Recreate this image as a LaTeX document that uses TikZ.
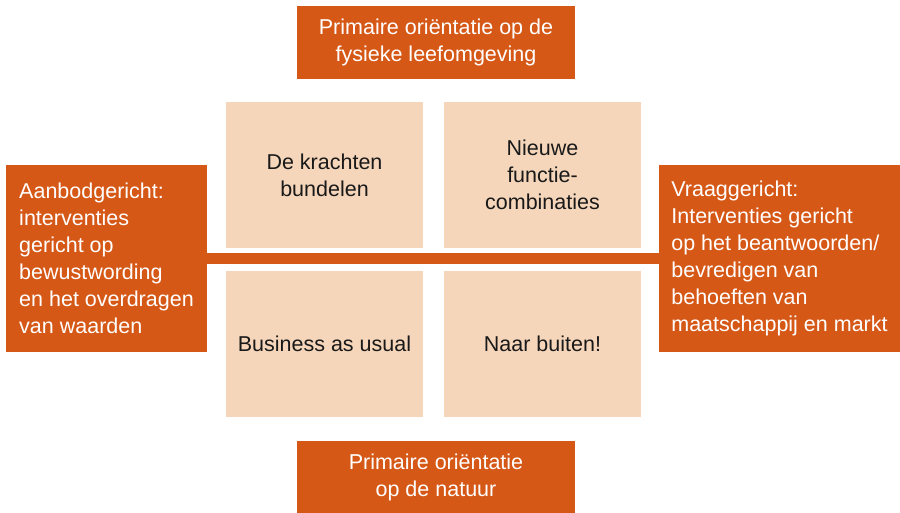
\documentclass[tikz,border=0pt]{standalone}
\usepackage{fontspec}
\setmainfont{Liberation Sans}
\usetikzlibrary{positioning}
\definecolor{oranje}{RGB}{214,88,23}
\definecolor{perzik}{RGB}{245,214,186}

\begin{document}
\begin{tikzpicture}[x=1pt, y=-1pt,
		axis/.style = {rectangle, fill=oranje, text=white, inner sep=0pt, font=\fontsize{21.5}{27}\selectfont},
		quadrant/.style = {rectangle, fill=perzik, text=black!90, inner sep=0pt, align=center, minimum width=197pt, minimum height=146pt, font=\fontsize{21.5}{27}\selectfont},
	]
	\useasboundingbox (0,0) rectangle (900,513);

	\node[axis, align=center, minimum width=278pt, minimum height=73pt](TOP) at (436,42.5){Primaire oriëntatie op de\\fysieke leefomgeving};
	\node[axis, align=center, minimum width=278pt, minimum height=72pt](BOT) at (436,477){Primaire oriëntatie\\op de natuur};
	\node[axis, align=left, minimum width=201pt, minimum height=187pt](AAN) at (106.5,258.5){Aanbodgericht:\\interventies\\gericht op\\bewustwording\\en het overdragen\\van waarden};
	\node[axis, align=left, minimum width=241pt, minimum height=187pt](VRA) at (779.5,258.5){Vraaggericht:\\Interventies gericht\\op het beantwoorden/\\bevredigen van\\behoeften van\\maatschappij en markt};

	\node[quadrant](TL) at (324.5,175){De krachten\\bundelen};
	\node[quadrant](TR) at (542.5,175){Nieuwe\\functie-\\combinaties};
	\node[quadrant](BL) at (324.5,344){Business as usual};
	\node[quadrant](BR) at (542.5,344){Naar buiten!};

	\draw[oranje, line width=11pt](AAN)--(VRA);

\end{tikzpicture}
\end{document}
